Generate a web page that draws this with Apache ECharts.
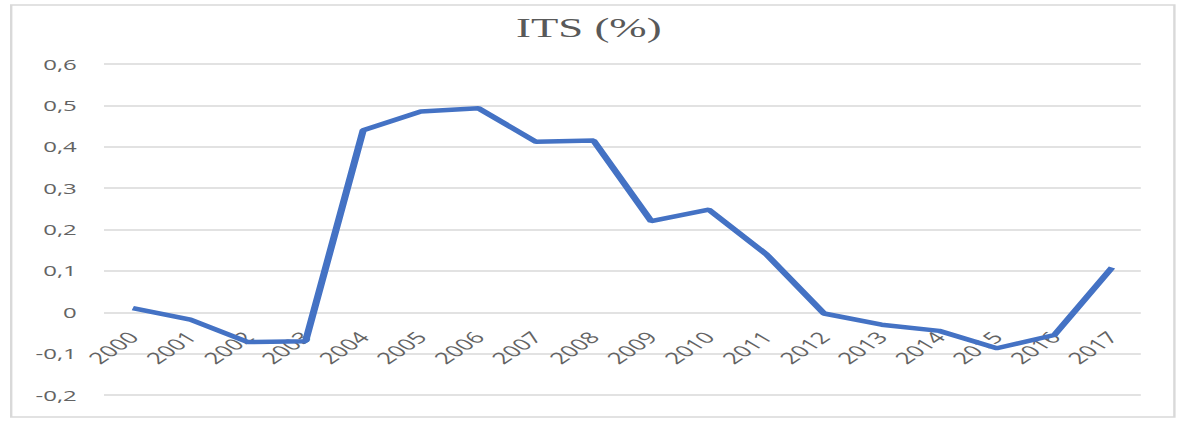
<!DOCTYPE html>
<html>
<head>
<meta charset="utf-8">
<script src="https://cdn.jsdelivr.net/npm/echarts@6/dist/echarts.min.js"></script>
<style>
  html, body { margin: 0; padding: 0; background: #fff; overflow: hidden; }
  #frame { width: 1178px; height: 430px; overflow: hidden; position: relative; }
  /* the chart is laid out on a narrower canvas and widened to the frame */
  #chart { width: 736px; height: 430px; transform: scaleX(1.6); transform-origin: 0 0; }
</style>
</head>
<body>
<div id="frame"><div id="chart"></div></div>
<script>
// Years on the category axis
const years = ['2000','2001','2002','2003','2004','2005','2006','2007','2008',
               '2009','2010','2011','2012','2013','2014','2015','2016','2017'];
// ITS values (%)
const its = [0.01, -0.018, -0.072, -0.07, 0.44, 0.485, 0.493, 0.412, 0.415,
             0.22, 0.248, 0.14, -0.003, -0.03, -0.045, -0.087, -0.055, 0.108];
// Value axis range and step
const yMin = -0.2, yMax = 0.6, yStep = 0.1;

const chart = echarts.init(document.getElementById('chart'), null, { renderer: 'svg' });
const labelColor = '#636363';
const gridColor = '#d9d9d9';

chart.setOption({
  animation: false,
  backgroundColor: '#ffffff',
  graphic: [{
    type: 'rect',
    shape: { x: 7, y: 5, width: 727, height: 412 },
    style: { fill: 'none', stroke: '#d9d9d9', lineWidth: 1.5 },
    silent: true
  }],
  title: {
    text: 'ITS (%)',
    left: 'center',
    top: 9,
    textStyle: { fontFamily: 'Liberation Serif', fontSize: 28, fontWeight: 'normal', color: '#595959' }
  },
  grid: { left: 65, right: 23, top: 64, bottom: 35, containLabel: false },
  xAxis: {
    type: 'category',
    data: years,
    boundaryGap: true,
    position: 'bottom',
    // category labels sit just under the zero line
    offset: -82,
    axisLine: { show: false, onZero: false },
    axisTick: { show: false },
    axisLabel: {
      rotate: 47,
      margin: 21,
      interval: 0,
      color: labelColor,
      fontFamily: 'Open Sans',
      fontSize: 16
    },
    splitLine: { show: false }
  },
  yAxis: {
    type: 'value',
    min: yMin,
    max: yMax,
    interval: yStep,
    axisLine: { show: false },
    axisTick: { show: false },
    axisLabel: {
      margin: 17,
      color: labelColor,
      fontFamily: 'Open Sans',
      fontSize: 15,
      formatter: v => {
        const r = Math.round(v * 10) / 10;
        return r === 0 ? '0' : r.toFixed(1).replace('.', ',');
      }
    },
    splitLine: { lineStyle: { color: gridColor, width: 1.5 } }
  },
  series: [{
    type: 'line',
    data: its,
    symbol: 'none',
    lineStyle: { color: '#4472C4', width: 4.5 },
    z: 3
  }]
});
</script>
</body>
</html>
